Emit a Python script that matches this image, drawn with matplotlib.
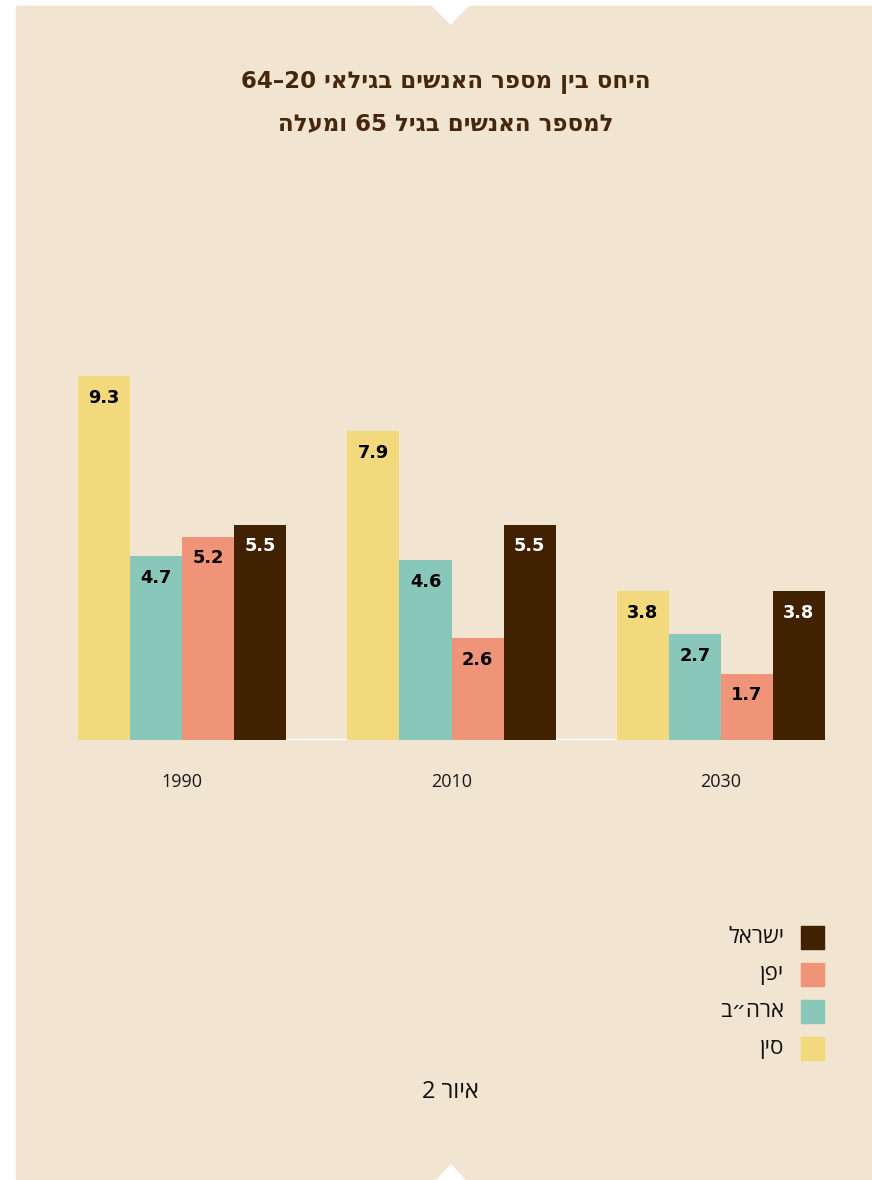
import matplotlib.pyplot as plt
from matplotlib.patches import Rectangle, Polygon

# Hebrew strings are stored in visual (left-to-right) order, matplotlib has no bidi
years = ["1990", "2010", "2030"]
countries = ["ןיס", "ב״הרא", "ןפי", "לארשי"]  # China, USA, Japan, Israel
china = [9.3, 7.9, 3.8]
usa = [4.7, 4.6, 2.7]
japan = [5.2, 2.6, 1.7]
israel = [5.5, 5.5, 3.8]
series = [china, usa, japan, israel]
colors = ["#F3D97E", "#8AC7BB", "#EF9478", "#402200"]
label_colors = ["black", "black", "black", "white"]

title_1 = "64–20 יאליגב םישנאה רפסמ ןיב סחיה"
title_2 = "הלעמו 65 ליגב םישנאה רפסמל"
caption = "2 רויא"

W, H = 872, 1180
BG = "#F1E4D0"
HEB = ["Open Sans", "DejaVu Sans"]


def fx(x):
    return x / W


def fy(y):
    return 1 - y / H


fig = plt.figure(figsize=(W / 100, H / 100), dpi=100)
fig.patch.set_facecolor("white")

# beige panel with the two small notches
fig.add_artist(Rectangle((fx(16), fy(1180)), fx(872) - fx(16), fy(6) - fy(1180),
                         transform=fig.transFigure, color=BG, zorder=0))
fig.add_artist(Polygon([(fx(432), fy(5)), (fx(469), fy(5)), (fx(450.5), fy(24))],
                       transform=fig.transFigure, color="white", zorder=1))
fig.add_artist(Polygon([(fx(436), fy(1181)), (fx(466), fy(1181)), (fx(451), fy(1165))],
                       transform=fig.transFigure, color="white", zorder=1))

ax = fig.add_axes([fx(78), fy(740), fx(825) - fx(78), fy(349) - fy(740)])
ax.set_facecolor("none")

w = 0.1933
for i, vals in enumerate(series):
    xs = [g + (i - 1.5) * w for g in range(len(years))]
    ax.bar(xs, vals, width=w, color=colors[i], zorder=2)
    for x, v in zip(xs, vals):
        ax.annotate(f"{v:.1f}", (x, v), xytext=(0, -15.5), textcoords="offset points",
                    ha="center", va="center", fontsize=12.8, fontweight="bold",
                    color=label_colors[i], family="DejaVu Sans", zorder=3)

ax.axhline(0, color="white", lw=2.5, zorder=1)
ax.set_xlim(-0.3866, 2.3866)
ax.set_ylim(0, 10)
ax.set_yticks([])
ax.set_xticks(range(len(years)), years, fontsize=13, color="#1a1a1a", family=HEB)
ax.tick_params(axis="x", length=0, pad=24)
for s in ax.spines.values():
    s.set_visible(False)

fig.text(fx(446), fy(83), title_1, ha="center", va="center", fontsize=16.5,
         fontweight="bold", color="#45270B", family="DejaVu Sans")
fig.text(fx(446), fy(124), title_2, ha="center", va="center", fontsize=16.5,
         fontweight="bold", color="#45270B", family="DejaVu Sans")

# legend, top to bottom: Israel, Japan, USA, China
for k, i in enumerate(reversed(range(len(countries)))):
    yc = 937.5 + k * 37
    fig.add_artist(Rectangle((fx(801), fy(yc + 11.5)), fx(23), 23 / H,
                             transform=fig.transFigure, color=colors[i], zorder=2))
    fig.text(fx(784), fy(yc), countries[i], ha="right", va="center", fontsize=16,
             color="#111111", family=HEB)

fig.text(fx(450), fy(1092), caption, ha="center", va="center", fontsize=17,
         color="#111111", family=HEB)

fig.savefig("out.png", dpi=100, facecolor=fig.get_facecolor())
